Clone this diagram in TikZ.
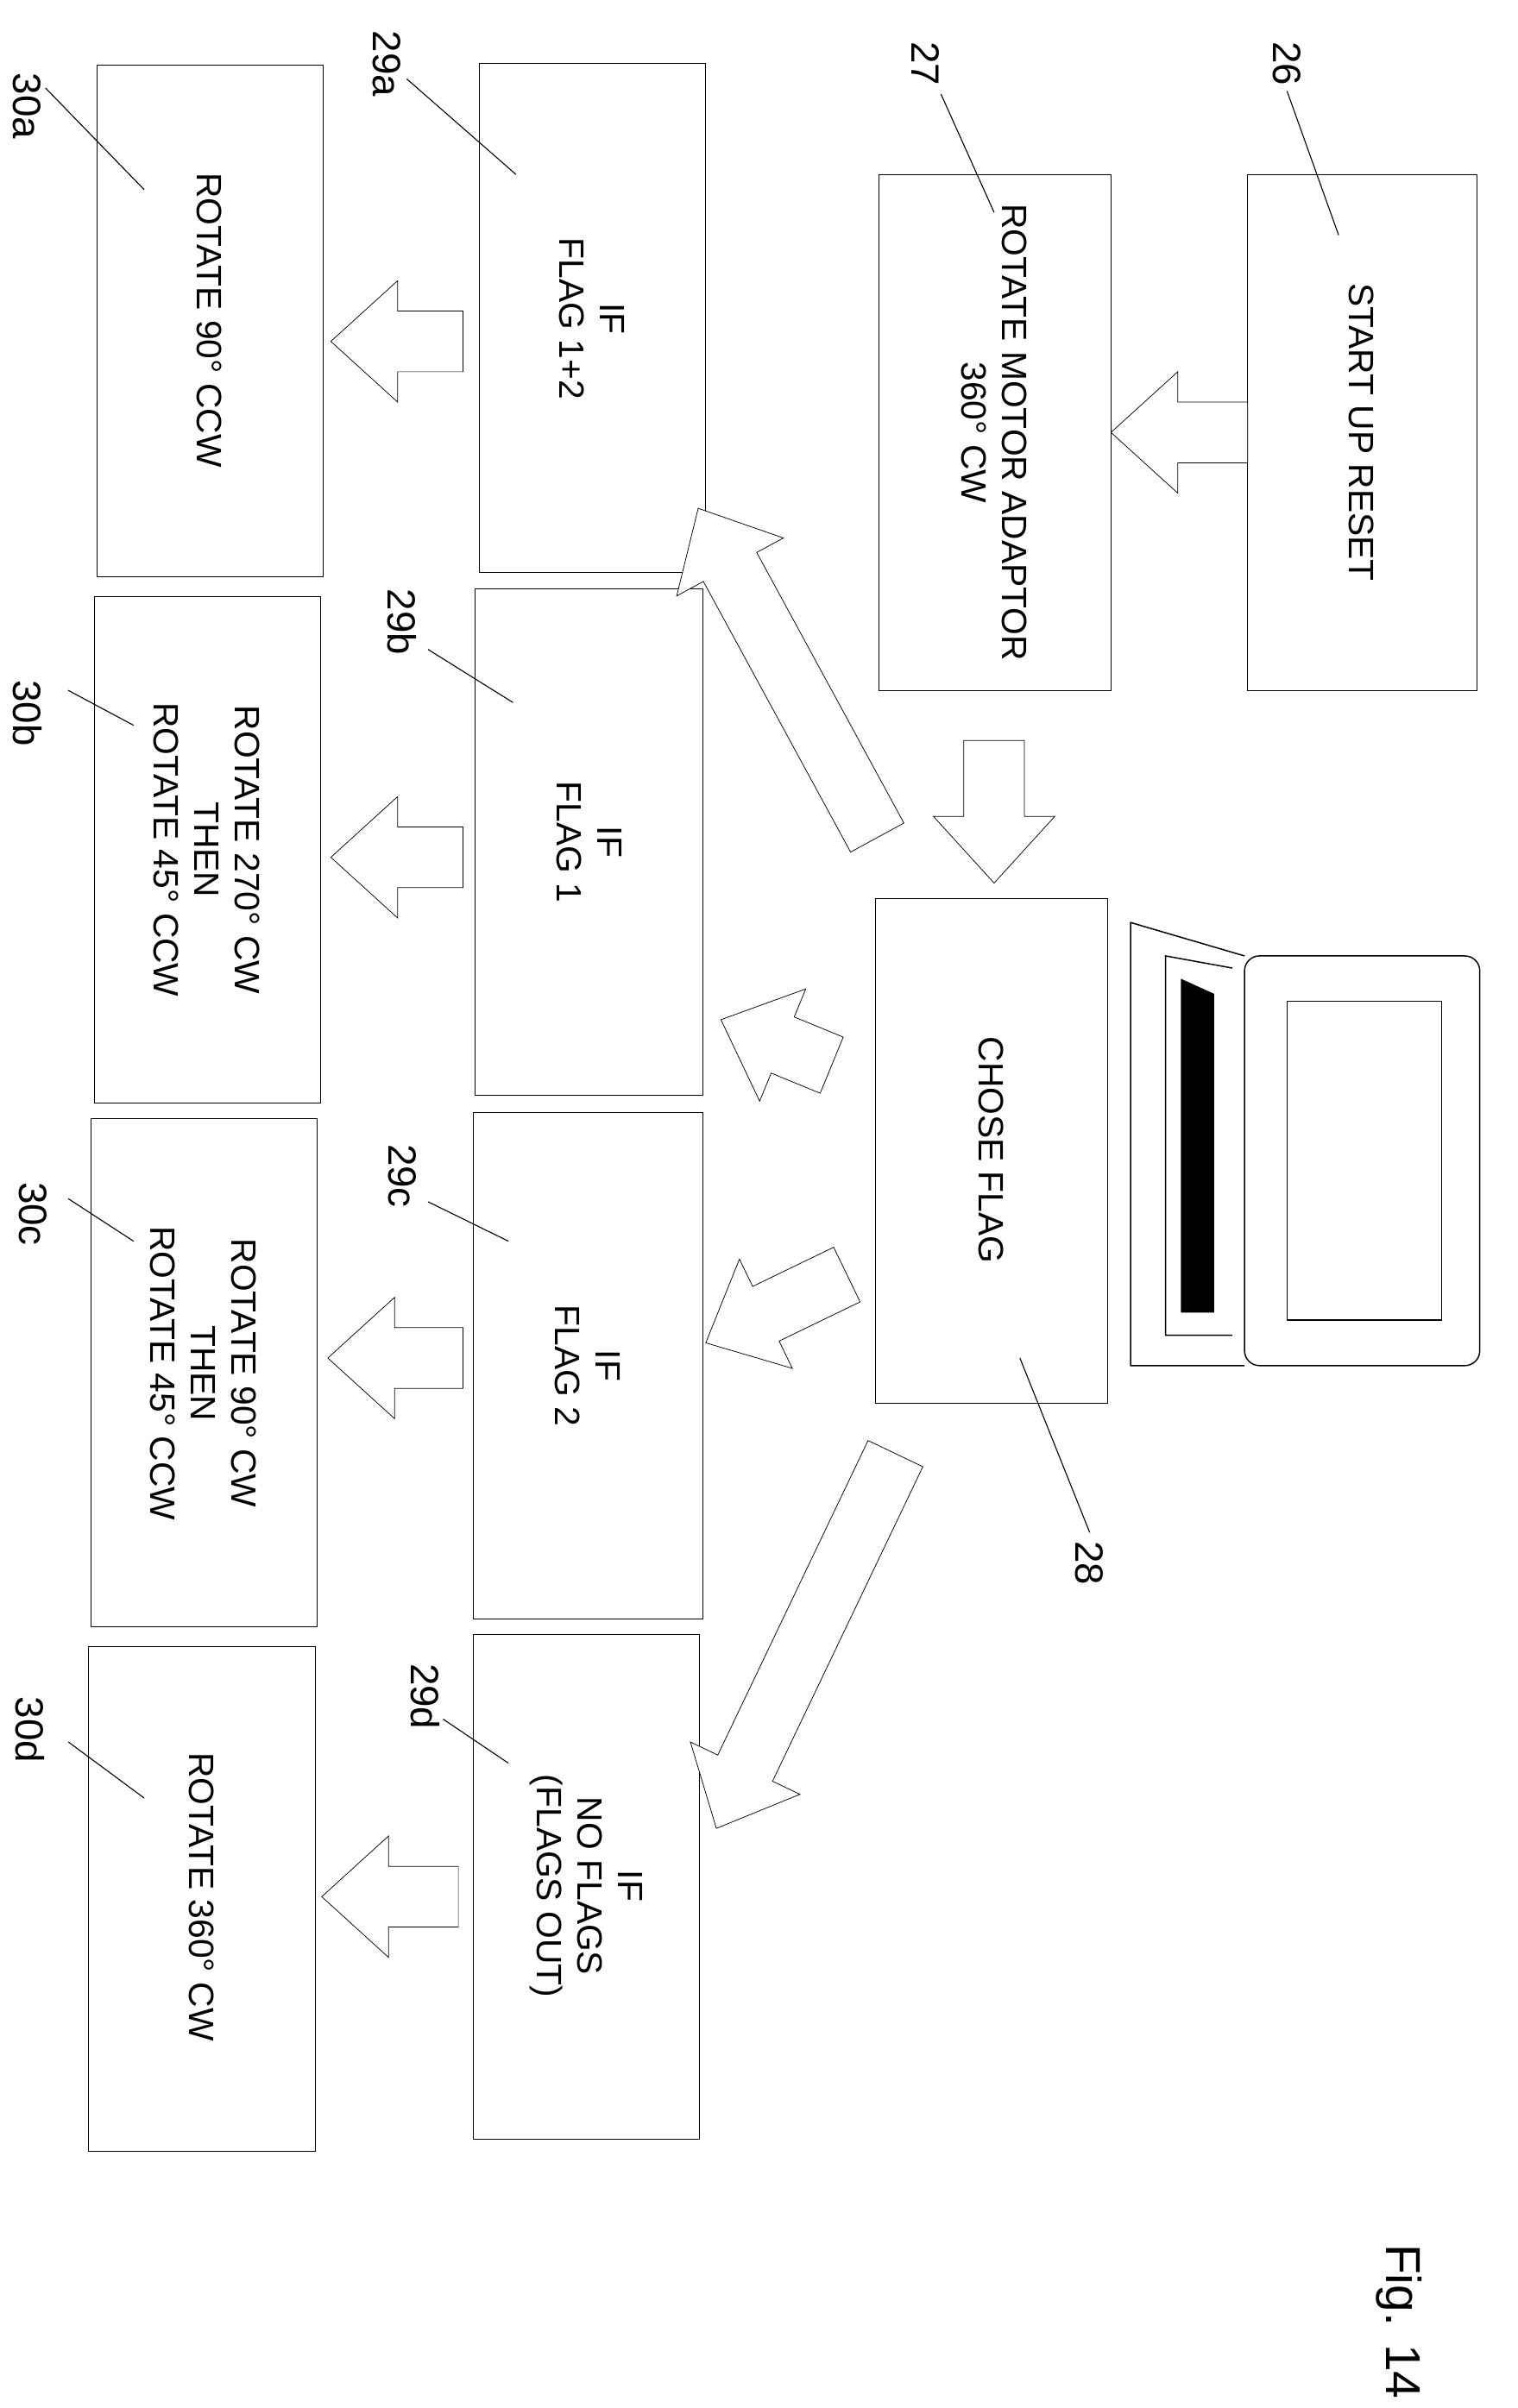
\documentclass[tikz,border=0pt]{standalone}
\usepackage{fontspec}
\setmainfont{Liberation Sans}
\usetikzlibrary{calc}
\newcommand\barrow[4]{%
\pgfmathsetmacro\ang{atan2(-((#4)-(#2)),(#3)-(#1))}%
\pgfmathsetmacro\len{veclen((#3)-(#1),(#4)-(#2))}%
\begin{scope}[shift={(#1,#2)},rotate=\ang]
\draw[arr] (0,-20)--(\len-44,-20)--(\len-44,-40)--(\len,0)--(\len-44,40)--(\len-44,20)--(0,20)--cycle;
\end{scope}}
\begin{document}
\begin{tikzpicture}[x=0.05cm,y=-0.05cm,
 box/.style={draw,line width=0.6pt},
 arr/.style={draw,line width=0.6pt,fill=white},
 txt/.style={rotate=-90,align=center,font=\fontsize{33}{38}\selectfont,inner sep=0},
 lbl/.style={rotate=-90,font=\fontsize{37}{40}\selectfont,inner sep=0},
 lead/.style={line width=0.9pt}]
\useasboundingbox (0,0) rectangle (1000,1587);
% boxes
\draw[box] (822,115) rectangle (973,455); \node[txt] (t26) at (897,285) {START UP RESET};
\draw[box] (579,115) rectangle (732,455); \node[txt] (t27) at (655,285) {ROTATE MOTOR ADAPTOR\\360° CW};
\draw[box] (577,592) rectangle (730,925); \node[txt] (t28) at (653,758) {CHOSE FLAG};
\draw[box] (316,42) rectangle (465,377); \node[txt] at (390,210) {IF\\FLAG 1+2};
\draw[box] (313,388) rectangle (463,722); \node[txt] at (388,555) {IF\\FLAG 1};
\draw[box] (312,733) rectangle (463,1067); \node[txt] at (387,900) {IF\\FLAG 2};
\draw[box] (312,1077) rectangle (461,1410); \node[txt] at (386,1243) {IF\\NO FLAGS\\(FLAGS OUT)};
\draw[box] (64,43) rectangle (213,380); \node[txt] at (138,211) {ROTATE 90° CCW};
\draw[box] (62,393) rectangle (211,727); \node[txt] at (136,560) {ROTATE 270° CW\\THEN\\ROTATE 45° CCW};
\draw[box] (60,737) rectangle (209,1072); \node[txt] at (134,905) {ROTATE 90° CW\\THEN\\ROTATE 45° CCW};
\draw[box] (58,1085) rectangle (208,1418); \node[txt] at (133,1250) {ROTATE 360° CW};
% block arrows
\barrow{822}{285}{732}{285}
\barrow{655}{488}{655}{582}
\barrow{305}{225}{218}{225}
\barrow{305}{565}{218}{565}
\barrow{305}{895}{216}{895}
\barrow{302}{1250}{212}{1250}
\barrow{578}{552}{460}{335}
\barrow{548}{702}{475}{672}
\barrow{558}{840}{465}{885}
\barrow{590}{958}{472}{1205}
% computer
\draw[line width=1.2pt,rounded corners=14] (820,630) rectangle (975,900);
\draw[line width=1.2pt] (848,660) rectangle (950,870);
\draw[line width=1.2pt] (820,630) -- (745,608) -- (745,900) -- (820,900);
\draw[line width=1.2pt] (812,638) -- (768,630) -- (768,880) -- (812,880);
\fill (778,645) -- (800,655) -- (800,865) -- (778,865) -- cycle;
% labels
\node[lbl] (l26) at (848,42) {26}; \draw[lead] (848,60) -- (882,155);
\node[lbl] (l27) at (610,42) {27}; \draw[lead] (620,62) -- (655,140);
\node[lbl] (l28) at (718,1030) {28}; \draw[lead] (718,1010) -- (672,895);
\node[lbl] (l29a) at (255,42) {29a}; \draw[lead] (268,52) -- (340,115);
\node[lbl] (l29b) at (265,410) {29b}; \draw[lead] (282,428) -- (338,463);
\node[lbl] (l29c) at (265,775) {29c}; \draw[lead] (282,792) -- (335,818);
\node[lbl] (l29d) at (280,1118) {29d}; \draw[lead] (292,1133) -- (335,1162);
\node[lbl] (l30a) at (18,70) {30a}; \draw[lead] (30,58) -- (95,125);
\node[lbl] (l30b) at (18,470) {30b}; \draw[lead] (45,455) -- (88,478);
\node[lbl] (l30c) at (22,800) {30c}; \draw[lead] (45,790) -- (88,818);
\node[lbl] (l30d) at (20,1140) {30d}; \draw[lead] (45,1148) -- (95,1185);
\node[rotate=-90,font=\fontsize{46}{50}\selectfont] (fig) at (922,1530) {Fig. 14};
\end{tikzpicture}
\end{document}
